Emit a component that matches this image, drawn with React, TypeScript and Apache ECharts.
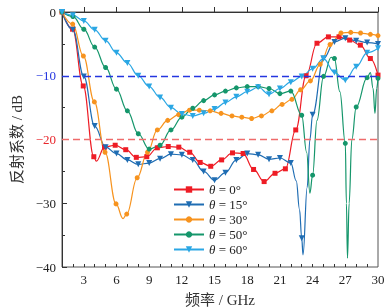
import React, { useEffect, useRef } from "react";
import * as echarts from "echarts";

const xLabelTicks = [3, 6, 9, 12, 15, 18, 21, 24, 27, 30];
const xMinorTicks = [2, 3, 4, 5, 6, 7, 8, 9, 10, 11, 12, 13, 14, 15, 16, 17, 18, 19, 20, 21, 22, 23, 24, 25, 26, 27, 28, 29];
const intFreq = [1, 2, 3, 4, 5, 6, 7, 8, 9, 10, 11, 12, 13, 14, 15, 16, 17, 18, 19, 20, 21, 22, 23, 24, 25, 26, 27, 28, 29, 30];

const names = ["θ = 0°", "θ = 15°", "θ = 30°", "θ = 50°", "θ = 60°"];

// θ = 0°
const freq0 = [1, 1.97, 2.95, 3.92, 4.9, 5.88, 6.85, 7.82, 8.78, 9.75, 10.75, 11.72, 12.72, 13.68, 14.65, 15.65, 16.65, 17.62, 18.58, 19.55, 20.55, 21.5, 22.45, 23.4, 24.4, 25.45, 26.42, 27.4, 28.38, 29.3, 30];
const vals0 = [0, -2.7, -11.6, -22.7, -21.2, -20.9, -21.6, -22.8, -22.7, -21.3, -21.1, -21.2, -22.0, -23.6, -24.2, -23.2, -22.1, -22.2, -24.7, -26.6, -25.3, -24.6, -18.5, -10.0, -4.9, -3.9, -3.9, -4.4, -5.2, -7.3, -9.9];
const extra0: number[][] = [[4.15, -23.4]];

// θ = 15°
const vals15 = [0, -2.8, -10.1, -17.9, -21.2, -22.2, -23.2, -23.9, -23.7, -23.0, -22.3, -22.4, -23.2, -25.0, -26.4, -25.2, -23.2, -22.2, -22.4, -23.1, -22.9, -23.7, -35.5, -16.1, -7.3, -4.7, -4.1, -4.5, -4.8, -5.0];
const extra15: number[][] = [[22.5, -26.5], [22.8, -31.0], [23.12, -38.1], [23.5, -27.5], [23.75, -20.0]];

// θ = 30°
const freq30 = [1, 1.98, 2.96, 3.97, 4.95, 5.96, 6.94, 7.9, 8.85, 9.75, 10.7, 11.7, 12.7, 13.6, 14.6, 15.6, 16.6, 17.5, 18.4, 19.3, 20.26, 21.2, 22.1, 22.9, 23.8, 24.7, 25.6, 26.6, 27.5, 28.4, 29.3, 30];
const vals30 = [0, -1.9, -6.9, -14.1, -22.0, -30.1, -31.7, -26.0, -22.0, -18.5, -17.0, -16.1, -15.4, -15.4, -15.5, -15.9, -16.3, -16.5, -16.7, -16.3, -15.5, -14.5, -13.7, -12.2, -10.8, -8.2, -5.1, -3.3, -3.2, -3.3, -3.5, -3.7];
const extra30: number[][] = [[6.6, -32.4]];

// θ = 50°
const vals50 = [0, -0.7, -2.7, -5.5, -8.7, -12.1, -15.5, -19.1, -21.5, -20.9, -18.5, -16.5, -15.1, -13.9, -13.0, -12.4, -11.9, -11.7, -11.7, -12.0, -12.8, -12.4, -16.2, -25.6, -10.1, -7.3, -20.6, -14.9, -10.3, -10.4];
const extra50: number[][] = [[23.45, -22.0], [23.75, -28.4], [24.4, -17.0], [25.7, -7.1], [26.5, -12.5], [27.1, -30.0], [27.2, -38.6], [27.35, -30.0], [27.6, -20.0], [29.3, -9.5], [29.55, -12.0], [29.72, -15.9], [29.88, -12.0]];

// θ = 60°
const vals60 = [0, -0.5, -1.4, -2.8, -4.5, -6.4, -8.0, -10.0, -11.7, -13.4, -15.0, -16.0, -16.3, -15.9, -15.2, -14.2, -13.3, -12.5, -11.8, -12.9, -12.0, -11.0, -10.1, -8.9, -7.3, -9.5, -10.7, -8.6, -6.4, -5.7];
const extra60: number[][] = [];

const refLines = [-10, -20];

const colors = ["#ee1c25", "#1f6db3", "#f7931e", "#15966b", "#2ba7e4"];
const symbols = ["rect", "triangle", "circle", "circle", "triangle"];
const rotations = [0, 180, 0, 0, 180];

function build(freq: number[], vals: number[], extra: number[][]) {
  const pts: any[] = freq.map((f, i) => ({ value: [f, vals[i]] }));
  extra.forEach(([f, v]) => pts.push({ value: [f, v], symbol: "none" }));
  pts.sort((a, b) => a.value[0] - b.value[0]);
  return pts;
}

const serif = "'Liberation Serif', 'Times New Roman', 'Noto Sans CJK SC', serif";

export default function App() {
  const ref = useRef<HTMLDivElement>(null);
  useEffect(() => {
    if (!ref.current) return;
    const chart = echarts.init(ref.current, undefined, { renderer: "svg" });
    const datasets = [
      build(freq0, vals0, extra0),
      build(intFreq, vals15, extra15),
      build(freq30, vals30, extra30),
      build(intFreq, vals50, extra50),
      build(intFreq, vals60, extra60),
    ];
    const minus = (v: number) => (v < 0 ? "\u2212" + Math.abs(v) : String(v));
    const series: any[] = datasets.map((d, i) => ({
      name: names[i],
      type: "line",
      data: d,
      smooth: 0.4,
      smoothMonotone: "x",
      symbol: symbols[i],
      symbolSize: symbols[i] === "triangle" ? 6 : 5,
      symbolRotate: rotations[i],
      showAllSymbol: true,
      color: colors[i],
      lineStyle: { width: 1.2, color: colors[i] },
      itemStyle: { color: colors[i] },
      z: 3,
    }));
    series[0].markLine = {
      silent: true,
      symbol: "none",
      label: { show: false },
      data: [
        { yAxis: refLines[0], lineStyle: { color: "#2436e0", type: [7, 4], width: 1.3 } },
        { yAxis: refLines[1], lineStyle: { color: "#ef6b6b", type: [7, 4], width: 1.3 } },
      ],
    };
    chart.setOption({
      animation: false,
      grid: {
        left: 62,
        right: 6,
        top: 12,
        bottom: 40,
        show: true,
        borderColor: "#555",
        borderWidth: 1,
        outerBoundsMode: "none",
        containLabel: false,
      },
      legend: {
        data: names,
        orient: "vertical",
        left: 168,
        top: 178,
        itemWidth: 30,
        itemHeight: 8,
        itemGap: 2,
        formatter: (n: string) => "{i|θ}{t|" + n.slice(1) + "}",
        textStyle: {
          rich: {
            i: { fontFamily: serif, fontSize: 13, fontStyle: "italic", color: "#222" },
            t: { fontFamily: serif, fontSize: 13, color: "#222" },
          },
        },
      },
      xAxis: [
        {
          type: "value",
          min: 1,
          max: 30,
          name: "频率 / GHz",
          nameLocation: "middle",
          nameGap: 25,
          nameTextStyle: { fontFamily: serif, fontSize: 15, color: "#333" },
          axisLine: { lineStyle: { color: "#333", width: 1 } },
          axisTick: { inside: true, length: 5, customValues: xLabelTicks, lineStyle: { color: "#333" } },
          axisLabel: { customValues: xLabelTicks, fontFamily: serif, fontSize: 13, color: "#222", margin: 6 },
          splitLine: { show: false },
        },
        {
          type: "value",
          min: 1,
          max: 30,
          position: "bottom",
          axisLine: { show: false },
          axisTick: { inside: true, length: 3, customValues: xMinorTicks, lineStyle: { color: "#333" } },
          axisLabel: { show: false },
          splitLine: { show: false },
        },
      ],
      yAxis: {
        type: "value",
        min: -40,
        max: 0,
        interval: 10,
        name: "反射系数 / dB",
        nameLocation: "middle",
        nameRotate: 90,
        nameGap: 27,
        nameTextStyle: { fontFamily: serif, fontSize: 15, color: "#333" },
        axisLine: { show: true, lineStyle: { color: "#333", width: 1 } },
        axisTick: { inside: true, length: 5, lineStyle: { color: "#333" } },
        minorTick: { show: true, splitNumber: 2, length: 3, lineStyle: { color: "#333" } },
        axisLabel: {
          fontFamily: serif,
          fontSize: 13,
          margin: 6,
          formatter: (v: number) => minus(v),
          color: (v: any) => (Number(v) === -10 ? "#2436e0" : Number(v) === -20 ? "#e8262b" : "#222"),
        },
        splitLine: { show: false },
        minorSplitLine: { show: false },
      },
      series,
    });
    return () => chart.dispose();
  }, []);
  return <div ref={ref} style={{ position: "fixed", left: 0, top: 0, width: 384, height: 307 }} />;
}
